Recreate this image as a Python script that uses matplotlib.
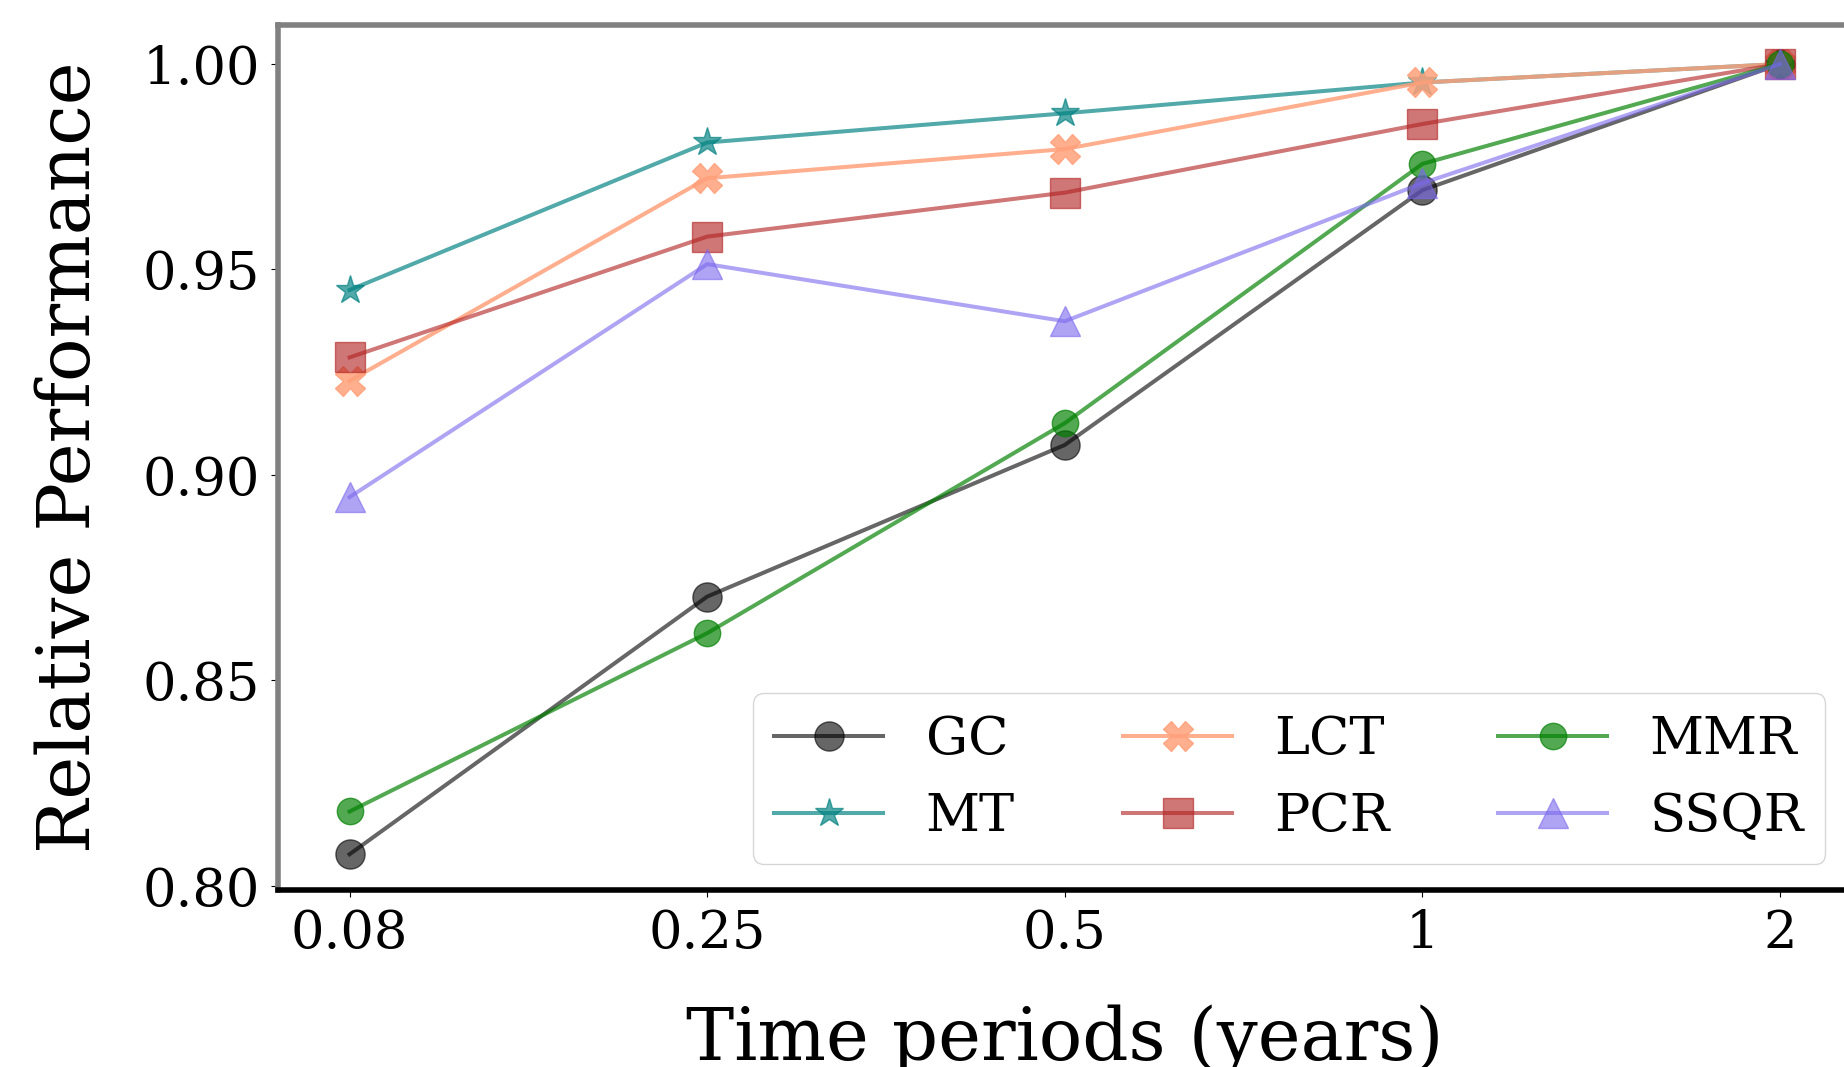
import matplotlib
matplotlib.use("Agg")
import matplotlib.pyplot as plt

periods = ["0.08", "0.25", "0.5", "1", "2"]

gc = [0.8077, 0.8704, 0.9073, 0.9693, 1.0]
mt = [0.9450, 0.9809, 0.9880, 0.9955, 1.0]
lct = [0.9229, 0.9722, 0.9793, 0.9955, 1.0]
pcr = [0.9286, 0.9580, 0.9687, 0.9854, 1.0]
mmr = [0.8181, 0.8615, 0.9126, 0.9757, 1.0]
ssqr = [0.8946, 0.9513, 0.9374, 0.9710, 1.0]

names = ["GC", "MT", "LCT", "PCR", "MMR", "SSQR"]

plt.rcParams['font.family'] = 'DejaVu Serif'

fig = plt.figure(figsize=(18.44, 10.67), dpi=100)
ax = fig.add_axes([0.1508, 0.1659, 0.8533, 0.8107])

x = list(range(len(periods)))
# (values, colour, marker, markersize, alpha)
series = [
  (gc, 'black', 'o', 21, 0.6),
  (mt, 'teal', '*', 21, 0.68),
  (lct, 'lightsalmon', 'X', 21, 0.85),
  (pcr, 'firebrick', 's', 21, 0.62),
  (mmr, 'green', 'o', 19, 0.68),
  (ssqr, 'mediumslateblue', '^', 21, 0.6),
]
for (vals, col, mk, ms, a), name in zip(series, names):
  ax.plot(x, vals, color=col, marker=mk, alpha=a, linewidth=2.9, markersize=ms, label=name)

ax.set_xlim(-0.2, 4.2)
ax.set_ylim(0.799, 1.0095)
ax.set_xticks(x)
ax.set_xticklabels(periods)
ax.set_yticks([0.80, 0.85, 0.90, 0.95, 1.00])
ax.set_yticklabels(["0.80", "0.85", "0.90", "0.95", "1.00"])
ax.tick_params(labelsize=38, length=5, pad=8)

for s in ['top', 'left', 'right']:
  ax.spines[s].set_color('#808080')
  ax.spines[s].set_linewidth(4)
ax.spines['bottom'].set_color('black')
ax.spines['bottom'].set_linewidth(4)

ax.set_xlabel("Time periods (years)", fontsize=52, labelpad=33)
ax.set_ylabel("Relative Performance", fontsize=52, labelpad=27)

ax.legend(loc='lower right', ncol=3, fontsize=38, numpoints=1,
          handlelength=2.07, columnspacing=2.05)

fig.savefig("out.png", dpi=100)
